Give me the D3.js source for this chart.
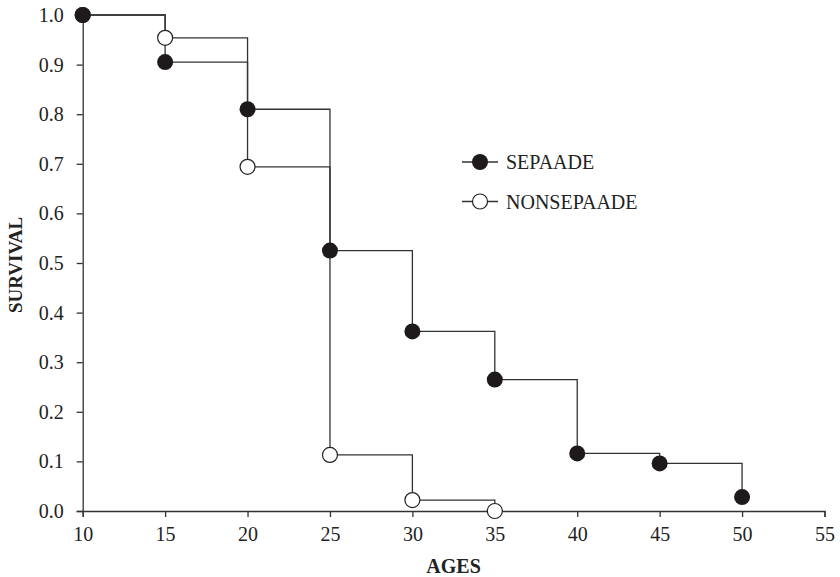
<!DOCTYPE html>
<html><head><meta charset="utf-8">
<script src="https://cdn.jsdelivr.net/npm/d3@7"></script>
<style>body{margin:0;background:#fff}svg{display:block}</style>
</head><body>
<svg id="c" width="840" height="577"></svg>
<script>
const ages = [10, 15, 20, 25, 30, 35, 40, 45, 50];
const sepaade = [1.0, 0.905, 0.810, 0.525, 0.362, 0.265, 0.116, 0.096, 0.028];
const nonAges = [10, 15, 20, 25, 30, 35];
const nonsepaade = [1.0, 0.954, 0.694, 0.113, 0.022, 0.0];
const xTicks = [10, 15, 20, 25, 30, 35, 40, 45, 50, 55];
const yTicks = [0, 0.1, 0.2, 0.3, 0.4, 0.5, 0.6, 0.7, 0.8, 0.9, 1.0];
const seriesNames = ["SEPAADE", "NONSEPAADE"];

const svg = d3.select("#c");
const font = "'Liberation Serif', 'Times New Roman', serif";
const x = d3.scaleLinear().domain([10, 55]).range([82.7, 824.5]);
const y = d3.scaleLinear().domain([0, 1]).range([511, 15]);
const ink = "#222";

const xAxis = svg.append("g").attr("transform", "translate(0,511)")
  .call(d3.axisBottom(x).tickValues(xTicks).tickFormat(d3.format("d")).tickSizeOuter(0).tickSize(6).tickPadding(10));
const yAxis = svg.append("g").attr("transform", "translate(82.7,0)")
  .call(d3.axisLeft(y).tickValues(yTicks).tickFormat(d3.format(".1f")).tickSizeOuter(0).tickSize(6).tickPadding(13));
[xAxis, yAxis].forEach(a => {
  a.selectAll("path,line").attr("stroke", "#333").attr("stroke-width", 1.3);
  a.selectAll("text").attr("fill", ink).style("font-family", font).style("font-size", "20px");
});

const line = d3.line().x(d => x(d[0])).y(d => y(d[1])).curve(d3.curveStepAfter);
const sData = ages.map((a, i) => [a, sepaade[i]]);
const nData = nonAges.map((a, i) => [a, nonsepaade[i]]);

svg.append("path").attr("d", line(nData)).attr("fill", "none").attr("stroke", "#333").attr("stroke-width", 1.3);
svg.append("path").attr("d", line(sData)).attr("fill", "none").attr("stroke", "#333").attr("stroke-width", 1.3);

svg.append("g").selectAll("circle").data(nData).join("circle")
  .attr("cx", d => x(d[0])).attr("cy", d => y(d[1])).attr("r", 7.5)
  .attr("fill", "#fff").attr("stroke", "#222").attr("stroke-width", 1.2);
svg.append("g").selectAll("circle").data(sData).join("circle")
  .attr("cx", d => x(d[0])).attr("cy", d => y(d[1])).attr("r", 8)
  .attr("fill", "#1e1a1b");

// Legend
const leg = svg.append("g");
seriesNames.forEach((name, i) => {
  const ly = 162 + i * 39.5;
  leg.append("line").attr("x1", 462).attr("x2", 498).attr("y1", ly).attr("y2", ly).attr("stroke", "#333").attr("stroke-width", 1.3);
  leg.append("circle").attr("cx", 480).attr("cy", ly).attr("r", i === 0 ? 8 : 7.5)
    .attr("fill", i === 0 ? "#1e1a1b" : "#fff").attr("stroke", i === 0 ? "none" : "#222").attr("stroke-width", 1.2);
  leg.append("text").attr("x", 506).attr("y", ly + 7).text(name)
    .attr("fill", ink).style("font-family", font).style("font-size", "20px");
});

svg.append("text").attr("x", 453.6).attr("y", 573).attr("text-anchor", "middle").text("AGES")
  .attr("fill", ink).style("font-family", font).style("font-size", "20px").style("font-weight", "bold");
svg.append("text").attr("transform", "translate(22,265) rotate(-90)").attr("text-anchor", "middle").text("SURVIVAL")
  .attr("fill", ink).style("font-family", font).style("font-size", "19px").style("font-weight", "bold");
</script>
</body></html>
